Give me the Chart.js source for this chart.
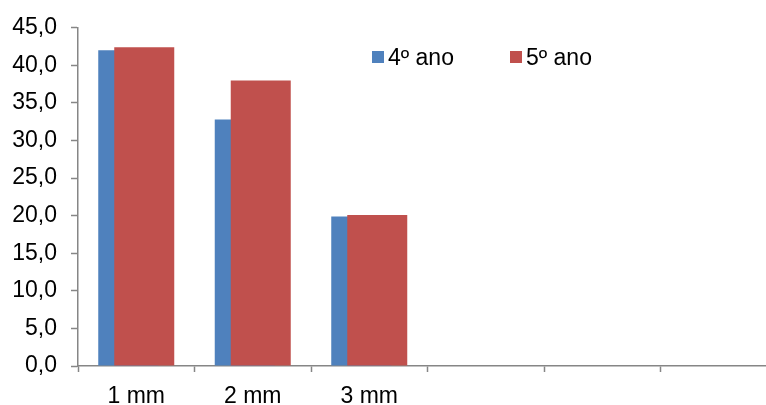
<!DOCTYPE html>
<html>
<head>
<meta charset="utf-8">
<script src="https://cdn.jsdelivr.net/npm/chart.js@4/dist/chart.umd.min.js"></script>
<style>
  html, body { margin: 0; padding: 0; overflow: hidden; background: #fff; }
  #wrap { position: relative; width: 777px; height: 405px; }
  .leg { position: absolute; top: 43px; font: 23px "Liberation Sans", Arial, sans-serif; color: #000; display: flex; align-items: center; line-height: 28px; }
  .leg span.box { display: inline-block; width: 12px; height: 12px; margin-right: 4px; }
</style>
</head>
<body>
<div id="wrap">
  <canvas id="chart"></canvas>
  <div class="leg" style="left:372px"><span class="box" style="background:#4F81BD"></span>4º ano</div>
  <div class="leg" style="left:510px"><span class="box" style="background:#C0504D"></span>5º ano</div>
</div>
<script>
// categorias (as três últimas ficam vazias)
const categories = ['1 mm', '2 mm', '3 mm', '', '', ''];
const ano4 = [42.0, 32.8, 19.9, null, null, null];
const ano5 = [42.4, 38.0, 20.1, null, null, null];

const axisColor = '#868686';
const fontSpec = { family: '"Liberation Sans", Arial, sans-serif', size: 23 };

const ctx = document.getElementById('chart').getContext('2d');
// o Chart.js desenha o primeiro dataset por cima; o 5º ano fica à frente e à direita,
// por isso vai primeiro e as percentagens negativas invertem o lado do grupo
const chart = new Chart(ctx, {
  type: 'bar',
  data: {
    labels: categories,
    datasets: [
      { label: '5º ano', data: ano5, backgroundColor: '#C0504D', borderWidth: 0 },
      { label: '4º ano', data: ano4, backgroundColor: '#4F81BD', borderWidth: 0 }
    ]
  },
  options: {
    responsive: true,
    maintainAspectRatio: false,
    animation: false,
    // barras sobrepostas como no Excel
    categoryPercentage: -0.2747,
    barPercentage: -3.75,
    layout: { padding: { top: 25, right: 0, bottom: 0, left: 0 } },
    plugins: { legend: { display: false }, tooltip: { enabled: false } },
    scales: {
      x: {
        grid: { drawOnChartArea: false, color: axisColor, tickLength: 6, tickWidth: 1.5 },
        border: { color: axisColor, width: 1.5 },
        ticks: { color: '#000', font: fontSpec, padding: 11, maxRotation: 0, autoSkip: false },
        afterFit: (s) => { s.height = 39; }
      },
      y: {
        min: 0,
        max: 45,
        grid: { drawOnChartArea: false, color: axisColor, tickLength: 7, tickWidth: 1.5 },
        border: { color: axisColor, width: 1.5 },
        ticks: {
          stepSize: 5,
          color: '#000',
          font: fontSpec,
          padding: 14,
          callback: (v) => v.toFixed(1).replace('.', ',')
        },
        afterFit: (s) => { s.width = 78; }
      }
    }
  }
});
</script>
</body>
</html>
